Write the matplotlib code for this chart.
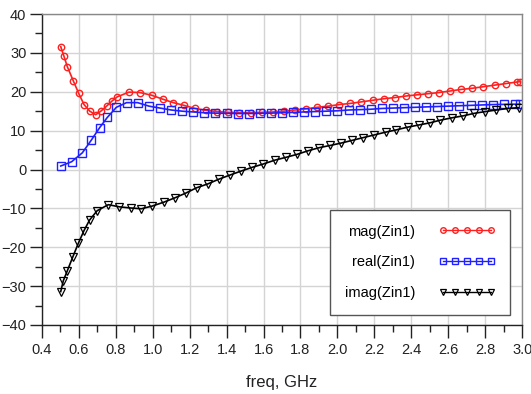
import numpy as np
import matplotlib
matplotlib.use("Agg")
import matplotlib.pyplot as plt

plt.rcParams['font.family'] = ['Liberation Sans', 'DejaVu Sans']

# mag(Zin1) - values read at marker positions
mag_freq = [0.503, 0.52, 0.539, 0.571, 0.60, 0.629, 0.66, 0.692, 0.72, 0.751, 0.78, 0.809,
            0.872, 0.931, 0.995, 1.054, 1.112, 1.169, 1.23, 1.29, 1.35, 1.41, 1.47,
            1.53, 1.59, 1.65, 1.71, 1.77, 1.83, 1.89, 1.95, 2.01, 2.07, 2.13, 2.19,
            2.25, 2.31, 2.37, 2.43, 2.49, 2.55, 2.61, 2.67, 2.73, 2.79, 2.85, 2.91, 2.97, 2.99]
mag_val = [31.6, 29.2, 26.4, 22.8, 19.6, 16.7, 15.0, 14.1, 15.0, 16.3, 17.6, 18.7,
           19.9, 19.8, 19.1, 18.1, 17.2, 16.5, 15.7, 15.2, 14.9, 14.7, 14.6,
           14.6, 14.7, 14.8, 15.0, 15.3, 15.6, 16.0, 16.3, 16.7, 17.0, 17.4, 17.8,
           18.2, 18.5, 18.9, 19.2, 19.5, 19.8, 20.2, 20.6, 20.9, 21.3, 21.7, 22.1, 22.5, 22.6]

# real(Zin1)
real_freq = [0.503, 0.562, 0.62, 0.669, 0.714, 0.755, 0.804, 0.859, 0.919, 0.98, 1.04,
             1.101, 1.16, 1.22, 1.28, 1.34, 1.40, 1.46, 1.52, 1.58, 1.64, 1.70, 1.76,
             1.82, 1.88, 1.94, 2.00, 2.06, 2.12, 2.18, 2.24, 2.30, 2.36, 2.42, 2.48,
             2.54, 2.60, 2.66, 2.72, 2.78, 2.84, 2.90, 2.96, 2.99]
real_val = [0.9, 2.0, 4.3, 7.6, 10.8, 13.4, 16.0, 17.2, 17.2, 16.3, 15.8,
            15.3, 15.0, 14.8, 14.6, 14.5, 14.45, 14.4, 14.4, 14.45, 14.5, 14.6, 14.7,
            14.8, 14.9, 15.0, 15.1, 15.3, 15.4, 15.5, 15.7, 15.8, 15.9, 16.0, 16.1,
            16.2, 16.3, 16.4, 16.5, 16.6, 16.7, 16.75, 16.8, 16.8]

# imag(Zin1)
imag_freq = [0.503, 0.517, 0.539, 0.569, 0.598, 0.629, 0.659, 0.70, 0.76, 0.82, 0.881,
             0.939, 0.998, 1.061, 1.12, 1.178, 1.238, 1.299, 1.358, 1.42, 1.479, 1.539,
             1.598, 1.661, 1.719, 1.782, 1.84, 1.90, 1.962, 2.02, 2.08, 2.139, 2.2,
             2.26, 2.319, 2.38, 2.44, 2.5, 2.557, 2.62, 2.68, 2.74, 2.8, 2.86, 2.92, 2.98]
imag_val = [-31.4, -28.6, -26.0, -22.4, -19.0, -15.7, -13.0, -10.6, -9.05, -9.6, -9.9,
            -10.1, -9.4, -8.4, -7.3, -6.1, -4.7, -3.7, -2.5, -1.4, -0.4, 0.56,
            1.4, 2.4, 3.1, 3.9, 4.8, 5.6, 6.2, 6.8, 7.5, 8.2, 8.9,
            9.6, 10.2, 10.9, 11.45, 12.0, 12.7, 13.3, 13.8, 14.45, 14.9, 15.3, 15.7, 15.9]

fig = plt.figure(figsize=(5.31, 3.94), dpi=100)
ax = fig.add_axes([41.7 / 531, 1 - 325 / 394, (522.3 - 41.7) / 531, (325 - 14) / 394])

ax.plot(mag_freq, mag_val, color='#ff1f1f', lw=1.2, marker='o', ms=4.6, mfc='none',
        mew=1.0, label='mag(Zin1)')
ax.plot(real_freq, real_val, color='#1f1fff', lw=1.2, marker='s', ms=5.2, mfc='none',
        mew=1.0, label='real(Zin1)')
ax.plot(imag_freq, imag_val, color='black', lw=1.2, marker='v', ms=5.2, mfc='none',
        mew=0.9, label='imag(Zin1)')

ax.set_xlim(0.4, 3.0)
ax.set_ylim(-40, 40)
ax.set_xticks(np.arange(0.4, 3.01, 0.2))
ax.set_xticks(np.arange(0.5, 3.0, 0.2), minor=True)
ax.set_yticks(np.arange(-40, 41, 10))
ax.set_yticks(np.arange(-35, 40, 10), minor=True)
ax.set_xticklabels(['%.1f' % v for v in np.arange(0.4, 3.01, 0.2)])
ax.grid(True, which='major', color='#d4d4d4', lw=1.0)
ax.set_axisbelow(True)

ax.tick_params(which='major', direction='out', length=9, width=1.0, labelsize=10.5,
               colors='#222222')
ax.tick_params(axis='x', which='major', pad=4)
ax.tick_params(axis='y', which='major', pad=2)
ax.tick_params(which='minor', direction='out', length=5, width=1.0, colors='#222222')

for s in ['left', 'bottom']:
    ax.spines[s].set_color('#222222')
    ax.spines[s].set_linewidth(1.0)
for s in ['top', 'right']:
    ax.spines[s].set_color('#888888')
    ax.spines[s].set_linewidth(1.0)

ax.set_xlabel('freq, GHz', fontsize=12, color='#222222', labelpad=13)

leg = ax.legend(loc='upper left', bbox_to_anchor=(330 / 531, 1 - 210 / 394),
                bbox_transform=fig.transFigure, borderaxespad=0, markerfirst=False,
                numpoints=5, handlelength=3.9, handletextpad=1.6, labelspacing=1.15,
                borderpad=1.0, fontsize=10.5, fancybox=False, framealpha=1,
                edgecolor='#555555')
leg.get_frame().set_linewidth(1.0)
for h in leg.legend_handles:
    h.set_markersize(4)
    h.set_linewidth(1.0)

fig.savefig('out.png', dpi=100)
